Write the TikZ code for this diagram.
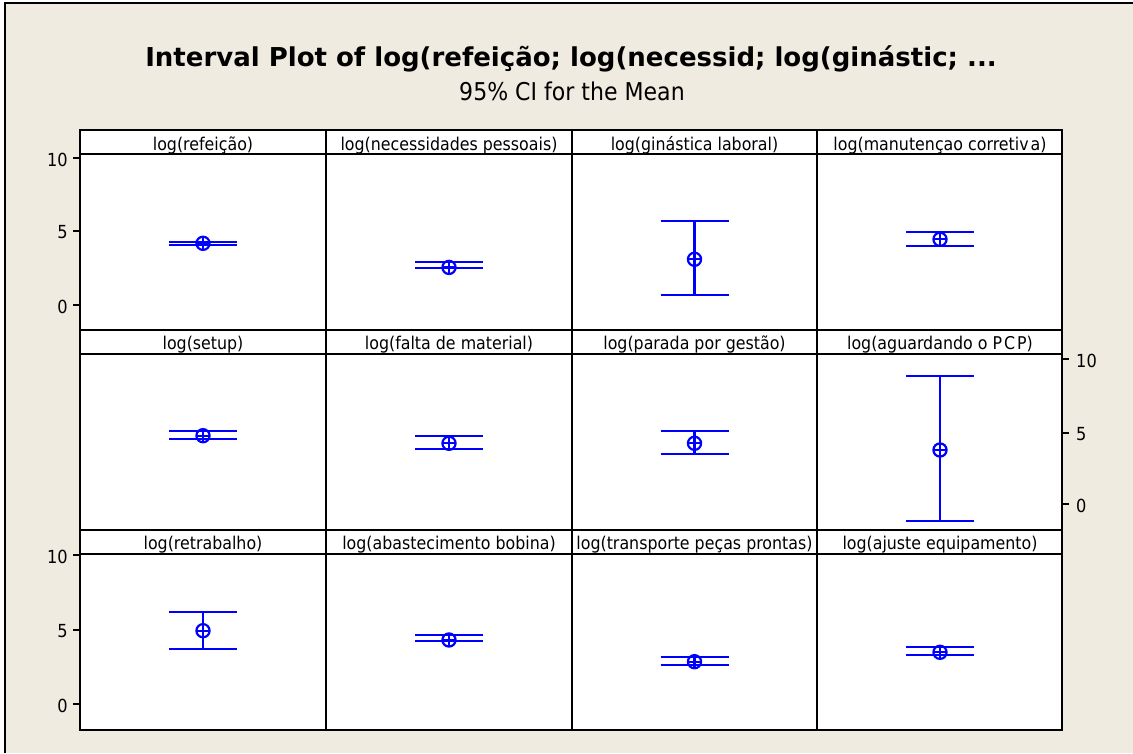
\documentclass[tikz,border=0pt]{standalone}
\usepackage{fontspec}
\setmainfont{DejaVu Sans}[FakeStretch=0.9]
\newfontfamily\titlefont{DejaVu Sans}
\definecolor{paper}{RGB}{239,235,225}
\definecolor{ciblue}{RGB}{0,0,255}
\tikzset{
  frame/.style={draw=black,line width=2pt},
  cibar/.style={draw=ciblue,line width=2.2pt},
  paneltitle/.style={anchor=base,inner sep=0pt,font=\fontsize{17.6}{17.6}\selectfont},
  ticklab/.style={inner sep=0pt,font=\fontsize{18}{18}\selectfont},
  tickmark/.style={draw=black,line width=1.6pt},
}
% interval: centre x, upper end, lower end, mean (all in page units)
\newcommand\ciplot[4]{%
  \draw[cibar] (#1-34,#2) -- (#1+34,#2);
  \draw[cibar] (#1-34,#3) -- (#1+34,#3);
  \draw[cibar] (#1,#2) -- (#1,#3);
  \draw[cibar] (#1,#4) circle[radius=6.6];
  \draw[cibar] (#1-6.6,#4) -- (#1+6.6,#4);
  \draw[cibar] (#1,#4-6.6) -- (#1,#4+6.6);
}
\begin{document}
\begin{tikzpicture}[x=1pt,y=-1pt]
\useasboundingbox (0,0) rectangle (1133,753);
% window background
\fill[white] (0,0) rectangle (1133,753);
\fill[paper] (5,3) rectangle (1133,753);
\draw[line width=1.8pt] (5,753) -- (5,3) -- (1133,3);

% titles
\node[anchor=base,inner sep=0pt,font=\titlefont\fontsize{26}{26}\bfseries\selectfont] (title) at (571,66)
  {Interval Plot of log(refeição; log(necessid; log(ginástic; ...};
\node[anchor=base,inner sep=0pt,font=\fontsize{24.5}{24.5}\selectfont] (subtitle) at (572,100)
  {95\% CI for the Mean};

% panel grid
\fill[white] (80,130) rectangle (1062,730);
\draw[frame] (80,130) rectangle (1062,730);
\foreach \x in {326,572,817} \draw[frame] (\x,130) -- (\x,730);
\foreach \y in {154,330,354,530,553.5} \draw[frame] (80,\y) -- (1062,\y);

% panel labels
\node[paneltitle] (l11) at (203,150) {log(refeição)};
\node[paneltitle] (l12) at (449,150) {log(necessidades pessoais)};
\node[paneltitle] (l13) at (694.5,150) {log(ginástica laboral)};
\node[paneltitle] (l14) at (940,150) {log(manutençao corretiv\kern2pt a)};
\node[paneltitle] (l21) at (203,349.5) {log(setup)};
\node[paneltitle] (l22) at (449,349.5) {log(falta de material)};
\node[paneltitle] (l23) at (694.5,349.5) {log(parada por gestão)};
\node[paneltitle] (l24) at (940,349.5) {log(aguardando o P\kern2pt C\kern2pt P)};
\node[paneltitle] (l31) at (203,549.5) {log(retrabalho)};
\node[paneltitle] (l32) at (449,549.5) {log(abastecimento bobina)};
\node[paneltitle] (l33) at (694.5,549.5) {log(transporte peças prontas)};
\node[paneltitle] (l34) at (940,549.5) {log(ajuste equipamento)};

% y axes: rows 1 and 3 on the left, row 2 on the right
\foreach \y/\v/\n in {158/10/a,231/5/b,305/0/c} {
  \draw[tickmark] (73,\y) -- (80,\y);
  \node[ticklab,anchor=east] (ya\n) at (68,\y+1.5) {\v};
}
\foreach \y/\v/\n in {555/10/a,630/5/b,704/0/c} {
  \draw[tickmark] (73,\y) -- (80,\y);
  \node[ticklab,anchor=east] (yc\n) at (68,\y+1.5) {\v};
}
\foreach \y/\v/\n in {359/10/a,432.7/5/b,504/0/c} {
  \draw[tickmark] (1062,\y) -- (1069,\y);
  \node[ticklab,anchor=west] (yb\n) at (1076,\y+1.5) {\v};
}

% confidence intervals
\ciplot{203}{241.7}{245}{243.3}
\ciplot{449}{262}{268}{267.4}
\ciplot{694.5}{220.7}{295.3}{259.3}
\ciplot{940}{232.3}{246.3}{239.3}
\ciplot{203}{431}{439}{435.7}
\ciplot{449}{436.3}{449}{443.3}
\ciplot{694.5}{431}{454}{443.3}
\ciplot{940}{376}{521.3}{450}
\ciplot{203}{611.7}{649}{630.7}
\ciplot{449}{634.7}{641.3}{640}
\ciplot{694.5}{656.7}{664.7}{661.7}
\ciplot{940}{647}{654.7}{652.3}
\end{tikzpicture}
\end{document}
